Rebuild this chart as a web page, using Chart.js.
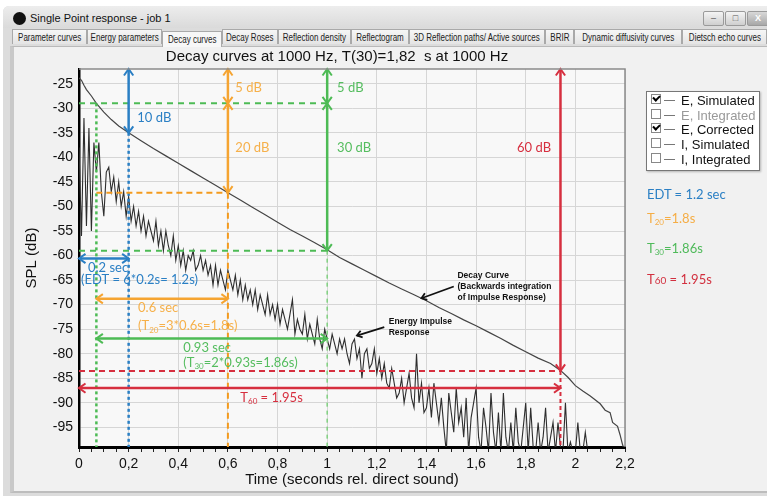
<!DOCTYPE html>
<html>
<head>
<meta charset="utf-8">
<title>Decay curves</title>
<script src="https://cdn.jsdelivr.net/npm/chart.js@4.4.1/dist/chart.umd.min.js"></script>
<style>
  html, body { margin: 0; padding: 0; width: 767px; height: 497px; overflow: hidden; background: #fff;
    font-family: "Liberation Sans", Arial, sans-serif; }
  .abs { position: absolute; }
  #frame { left: 3px; top: 6px; width: 764px; height: 490px; background: #dcdcdc; border-radius: 6px 0 0 0; }
  #titlebar { left: 3px; top: 6px; width: 764px; height: 22px; background: linear-gradient(#ededed, #dadada);
    border-radius: 6px 0 0 0; }
  #icon { left: 13px; top: 12px; width: 13px; height: 13px; border-radius: 50%; background: #111; }
  #wtitle { left: 30px; top: 12px; font-size: 11px; color: #111; }
  .wbtn { top: 11px; width: 19px; height: 13px; border: 1px solid #9a9a9a; border-radius: 2px;
    background: linear-gradient(#f4f4f4, #cfcfcf); font-size: 9px; color: #555; text-align: center; line-height: 12px; }
  #tabs { left: 10px; top: 28px; width: 757px; height: 18px; }
  .tab { position: absolute; top: 1px; height: 15px; border: 1px solid #a9a9a9; border-bottom: none;
    background: linear-gradient(#f6f6f6, #e4e4e4); color: #222;
    line-height: 15px; white-space: nowrap; overflow: hidden; box-sizing: border-box; }
  .tab span { display: block; width: 125%; margin-left: -12.5%; text-align: center; font-size: 10px;
    transform: scaleX(0.8); transform-origin: center; }
  .tab.on { top: 3px; height: 16px; background: #f7f7f7; z-index: 2; }
  #panel { left: 10px; top: 46px; width: 757px; height: 447px; background: #f1f1f1;
    border-left: 4px solid #c9c9c9; border-top: 1px solid #b9b9b9; border-bottom: 2px solid #bdbdbd; box-sizing: border-box; }
  #chart { left: 0; top: 0; z-index: 3; }
  #legend { left: 646px; top: 91px; width: 114px; height: 80px; background: #fff; border: 1px solid #777;
    box-shadow: 1px 1px 2px rgba(0,0,0,0.25); box-sizing: border-box; z-index: 4; padding-top: 2px; }
  .row { height: 14.7px; font-size: 13px; line-height: 14.7px; color: #111; white-space: nowrap; position: relative; }
  .row.dim { color: #999; }
  .cb { display: inline-block; width: 8px; height: 8px; border: 1px solid #888; margin-left: 4px; vertical-align: 1px;
    background: #fff; position: relative; }
  .cb.on::after { content: ""; position: absolute; left: 1px; top: 0px; width: 5px; height: 3px;
    border-left: 2px solid #000; border-bottom: 2px solid #000; transform: rotate(-45deg); }
  .ln { display: inline-block; width: 11px; height: 1px; background: #777; margin: 0 6px 0 3px; vertical-align: 4px; }
  .side { left: 647px; font-family: Lato, "Open Sans", sans-serif; font-size: 13px; z-index: 4; white-space: nowrap; }
  .side sub { font-size: 8px; vertical-align: -2px; }
</style>
</head>
<body>
<div id="frame" class="abs"></div>
<div id="titlebar" class="abs"></div>
<div id="icon" class="abs"></div>
<div id="wtitle" class="abs">Single Point response - job 1</div>
<div class="abs wbtn" style="left:703px">&#8211;</div>
<div class="abs wbtn" style="left:725px">&#9633;</div>
<div class="abs wbtn" style="left:747px;width:20px;background:linear-gradient(#d8d8d8,#a8a8a8);color:#fff;font-weight:bold">X</div>
<div id="panel" class="abs"></div>
<div id="tabs" class="abs"></div>
<canvas id="chart" class="abs" width="767" height="497"></canvas>

<div id="legend" class="abs">
  <div class="row"><span class="cb on"></span><span class="ln"></span>E, Simulated</div>
  <div class="row dim"><span class="cb"></span><span class="ln"></span>E, Integrated</div>
  <div class="row"><span class="cb on"></span><span class="ln"></span>E, Corrected</div>
  <div class="row"><span class="cb"></span><span class="ln"></span>I, Simulated</div>
  <div class="row"><span class="cb"></span><span class="ln"></span>I, Integrated</div>
</div>
<div class="abs side" style="top:186px;color:#2a7fc4">EDT = 1.2 sec</div>
<div class="abs side" style="top:210px;color:#f5ad45">T<sub>20</sub>=1.8s</div>
<div class="abs side" style="top:240px;color:#4fba5a">T<sub>30</sub>=1.86s</div>
<div class="abs side" style="top:271px;color:#d2303f">T<span style="font-size:10px">60</span> = 1.95s</div>

<script>
// window tabs: [label, left, width]
const tabList = [
  ["Parameter curves", 2, 75], ["Energy parameters", 77, 75], ["Decay curves", 152, 60],
  ["Decay Roses", 212, 56], ["Reflection density", 268, 73], ["Reflectogram", 341, 58],
  ["3D Reflection paths/ Active sources", 399, 136], ["BRIR", 535, 29],
  ["Dynamic diffusivity curves", 564, 108], ["Dietsch echo curves", 672, 85]
];
const tabBox = document.getElementById("tabs");
tabList.forEach(([name, left, width]) => {
  const t = document.createElement("div");
  t.className = "tab" + (name === "Decay curves" ? " on" : "");
  t.style.left = left + "px";
  t.style.width = width + "px";
  const s = document.createElement("span");
  s.textContent = name;
  t.appendChild(s);
  tabBox.appendChild(t);
});

// axis ticks
const xMajorTicks = [0, 0.2, 0.4, 0.6, 0.8, 1, 1.2, 1.4, 1.6, 1.8, 2, 2.2];
const xTickLabels = ["0", "0,2", "0,4", "0,6", "0,8", "1", "1,2", "1,4", "1,6", "1,8", "2", "2,2"];
const xMinorTicks = [0.05, 0.1, 0.15, 0.25, 0.3, 0.35, 0.45, 0.5, 0.55, 0.65, 0.7, 0.75, 0.85, 0.9, 0.95,
  1.05, 1.1, 1.15, 1.25, 1.3, 1.35, 1.45, 1.5, 1.55, 1.65, 1.7, 1.75, 1.85, 1.9, 1.95, 2.05, 2.1, 2.15];
const yTicks = [-25, -30, -35, -40, -45, -50, -55, -60, -65, -70, -75, -80, -85, -90, -95];

// energy impulse response (dB), sampled every 10 ms
const irTime = [
  0, 0.01, 0.02, 0.03, 0.04, 0.05, 0.06, 0.07, 0.08, 0.09,
  0.1, 0.11, 0.12, 0.13, 0.14, 0.15, 0.16, 0.17, 0.18, 0.19,
  0.2, 0.21, 0.22, 0.23, 0.24, 0.25, 0.26, 0.27, 0.28, 0.29,
  0.3, 0.31, 0.32, 0.33, 0.34, 0.35, 0.36, 0.37, 0.38, 0.39,
  0.4, 0.41, 0.42, 0.43, 0.44, 0.45, 0.46, 0.47, 0.48, 0.49,
  0.5, 0.51, 0.52, 0.53, 0.54, 0.55, 0.56, 0.57, 0.58, 0.59,
  0.6, 0.61, 0.62, 0.63, 0.64, 0.65, 0.66, 0.67, 0.68, 0.69,
  0.7, 0.71, 0.72, 0.73, 0.74, 0.75, 0.76, 0.77, 0.78, 0.79,
  0.8, 0.81, 0.82, 0.83, 0.84, 0.85, 0.86, 0.87, 0.88, 0.89,
  0.9, 0.91, 0.92, 0.93, 0.94, 0.95, 0.96, 0.97, 0.98, 0.99,
  1, 1.01, 1.02, 1.03, 1.04, 1.05, 1.06, 1.07, 1.08, 1.09,
  1.1, 1.11, 1.12, 1.13, 1.14, 1.15, 1.16, 1.17, 1.18, 1.19,
  1.2, 1.21, 1.22, 1.23, 1.24, 1.25, 1.26, 1.27, 1.28, 1.29,
  1.3, 1.31, 1.32, 1.33, 1.34, 1.35, 1.36, 1.37, 1.38, 1.39,
  1.4, 1.41, 1.42, 1.43, 1.44, 1.45, 1.46, 1.47, 1.48, 1.49,
  1.5, 1.51, 1.52, 1.53, 1.54, 1.55, 1.56, 1.57, 1.58, 1.59,
  1.6, 1.61, 1.62, 1.63, 1.64, 1.65, 1.66, 1.67, 1.68, 1.69,
  1.7, 1.71, 1.72, 1.73, 1.74, 1.75, 1.76, 1.77, 1.78, 1.79,
  1.8, 1.81, 1.82, 1.83, 1.84, 1.85, 1.86, 1.87, 1.88, 1.89,
  1.9, 1.91, 1.92, 1.93, 1.94, 1.95, 1.96, 1.97, 1.98, 1.99,
  2, 2.01, 2.02, 2.03, 2.04, 2.05
];
const irLevel = [
  -38, -56, -32, -54, -34, -55, -37, -43, -37, -47,
  -52, -43, -42, -47, -44, -49, -45, -50, -47, -52,
  -48, -53, -50, -54, -51, -55, -52, -56, -53, -55,
  -57, -53, -58, -55, -59, -55, -58, -60, -56, -61,
  -58, -62, -59, -63, -60, -61, -59, -63, -62, -60,
  -63, -61, -64, -62, -66, -62, -66, -63, -65, -67,
  -63, -65, -67, -64, -68, -65, -69, -66, -69, -67,
  -70, -67, -71, -68, -70, -72, -68, -72, -70, -73,
  -70, -74, -71, -73, -75, -72, -69, -76, -73, -75,
  -76, -72, -77, -74, -76, -78, -73, -77, -79, -75,
  -77, -79, -76, -78, -80, -77, -79, -77, -80, -82,
  -78, -77, -81, -79, -85, -80, -79, -83, -82, -79,
  -84, -81, -85, -82, -86, -87, -83, -86, -89, -88,
  -85, -90, -87, -84, -89, -91, -80, -90, -86, -92,
  -91, -87, -93, -86, -90, -94, -89, -95, -100, -88,
  -92, -96, -87, -94, -91, -97, -89, -100, -93, -90,
  -87, -97, -100, -91, -95, -100, -88, -96, -100, -92,
  -100, -88, -97, -100, -94, -100, -91, -98, -100, -95,
  -90, -100, -91, -99, -100, -94, -100, -97, -91, -100,
  -97, -94, -100, -94, -99, -100, -90, -100, -98, -100,
  -100, -94, -100, -100, -96, -100
];

// backwards-integrated decay curve (dB)
const decayTime = [0, 0.01, 0.02, 0.03, 0.05, 0.07, 0.1, 0.13, 0.16, 0.2, 0.25, 0.3, 0.35, 0.4, 0.45, 0.5,
  0.55, 0.6, 0.65, 0.7, 0.75, 0.8, 0.85, 0.9, 0.95, 1, 1.05, 1.1, 1.15, 1.2, 1.25, 1.3, 1.35, 1.4, 1.45,
  1.5, 1.55, 1.6, 1.65, 1.7, 1.75, 1.8, 1.85, 1.9, 1.94, 1.97, 2, 2.03, 2.06, 2.1, 2.12, 2.14, 2.15,
  2.17, 2.18, 2.19, 2.2];
const decayLevel = [-23.8, -24.3, -25.3, -26.2, -27.5, -29, -30.8, -32.3, -33.6, -35, -36.6, -38.2, -39.7,
  -41.2, -42.7, -44.2, -45.7, -47.2, -48.7, -50.2, -51.7, -53.2, -54.7, -56, -57.4, -58.8, -60.4, -61.7,
  -63, -64.3, -65.6, -66.8, -68, -69.2, -70.6, -71.8, -73.1, -74.3, -75.6, -76.9, -78.3, -79.6, -80.9,
  -82, -83.4, -84.8, -86.5, -87.6, -88.6, -90.2, -91.5, -92, -94, -94.8, -96.5, -98.5, -100];

const BLUE = "#2a7fc4", ORANGE = "#f5a431", GREEN = "#4dbb55", RED = "#d62f3f";
const Y_TOP = -22, Y_BOT = -99;

// construction lines (seconds / dB)
const guides = [
  { x1: 0, y1: -29, x2: 1, y2: -29, color: GREEN, dash: [6, 5], width: 2 },
  { x1: 0, y1: -59, x2: 1, y2: -59, color: GREEN, dash: [6, 5], width: 2 },
  { x1: 0.07, y1: -29, x2: 0.07, y2: Y_BOT, color: GREEN, dash: [3, 3], width: 2.5 },
  { x1: 1, y1: -59, x2: 1, y2: Y_BOT, color: "#7fd07f", dash: [4, 4], width: 1.5 },
  { x1: 0.2, y1: -35, x2: 0.2, y2: Y_BOT, color: BLUE, dash: [3, 3], width: 2.5 },
  { x1: 0.07, y1: -47.2, x2: 0.6, y2: -47.2, color: "#f39a1e", dash: [6, 4], width: 2 },
  { x1: 0.6, y1: -47.2, x2: 0.6, y2: Y_BOT, color: "#f39a1e", dash: [6, 4], width: 2 },
  { x1: 0, y1: -83.5, x2: 1.94, y2: -83.5, color: RED, dash: [6, 4], width: 2 },
  { x1: 1.94, y1: -83.5, x2: 1.94, y2: Y_BOT, color: RED, dash: [4, 3], width: 2 }
];

// double-headed arrows (seconds / dB)
const arrows = [
  { x1: 0.2, y1: Y_TOP, x2: 0.2, y2: -35, color: BLUE },
  { x1: 0.6, y1: Y_TOP, x2: 0.6, y2: -29, color: ORANGE },
  { x1: 0.6, y1: -29, x2: 0.6, y2: -47.2, color: ORANGE },
  { x1: 1, y1: Y_TOP, x2: 1, y2: -29, color: GREEN },
  { x1: 1, y1: -29, x2: 1, y2: -59, color: GREEN },
  { x1: 1.94, y1: Y_TOP, x2: 1.94, y2: -83.5, color: RED },
  { x1: 0, y1: -60.6, x2: 0.2, y2: -60.6, color: BLUE },
  { x1: 0.07, y1: -68.8, x2: 0.6, y2: -68.8, color: ORANGE },
  { x1: 0.07, y1: -76.9, x2: 1, y2: -76.9, color: GREEN },
  { x1: 0, y1: -87, x2: 1.94, y2: -87, color: RED }
];

// coloured labels; array parts are [text, subscript]
const labels = [
  { x: 0.235, y: -31.9, color: BLUE, parts: ["10 dB"] },
  { x: 0.63, y: -25.8, color: "#f6b04a", parts: ["5 dB"] },
  { x: 0.63, y: -38, color: "#f6b04a", parts: ["20 dB"] },
  { x: 1.04, y: -25.8, color: "#55bd5f", parts: ["5 dB"] },
  { x: 1.04, y: -38, color: "#55bd5f", parts: ["30 dB"] },
  { x: 1.765, y: -38, color: RED, parts: ["60 dB"] },
  { x: 0.036, y: -62.6, color: BLUE, parts: ["0.2 sec"] },
  { x: 0.008, y: -64.9, color: BLUE, parts: ["(EDT = 6*0.2s= 1.2s)"] },
  { x: 0.238, y: -70.7, color: "#f6b04a", parts: ["0.6 sec"] },
  { x: 0.238, y: -74.4, color: "#f6b04a", parts: ["(T", ["20"], "=3*0.6s=1.8s)"] },
  { x: 0.42, y: -78.7, color: "#55bd5f", parts: ["0.93 sec"] },
  { x: 0.42, y: -81.8, color: "#55bd5f", parts: ["(T", ["30"], "=2*0.93s=1.86s)"] },
  { x: 0.65, y: -89, color: RED, parts: ["T", ["60"], " = 1.95s"] }
];

// black callouts with pointer arrows
const callouts = [
  { x: 1.525, y: -64.1, lines: ["Decay Curve", "(Backwards integration", "of Impulse Response)"],
    ax: 1.51, ay: -66.3, bx: 1.38, by: -68.7 },
  { x: 1.248, y: -73.5, lines: ["Energy Impulse", "Response"],
    ax: 1.23, ay: -74.6, bx: 1.12, by: -76.3 }
];

function drawHead(ctx, tipX, tipY, ang, size) {
  ctx.beginPath();
  ctx.moveTo(tipX - size * Math.cos(ang - 0.62), tipY - size * Math.sin(ang - 0.62));
  ctx.lineTo(tipX, tipY);
  ctx.lineTo(tipX - size * Math.cos(ang + 0.62), tipY - size * Math.sin(ang + 0.62));
  ctx.stroke();
}

const plotFrame = {
  id: "plotFrame",
  beforeDraw(chart) {
    const { ctx, chartArea: a } = chart;
    ctx.save();
    ctx.fillStyle = "#f8f8f8";
    ctx.fillRect(a.left, a.top, a.right - a.left, a.bottom - a.top);
    ctx.restore();
  },
  afterDraw(chart) {
    const { ctx, chartArea: a } = chart;
    ctx.save();
    ctx.strokeStyle = "#8a8a8a";
    ctx.lineWidth = 1.5;
    ctx.beginPath();
    ctx.moveTo(a.left, a.top);
    ctx.lineTo(a.right, a.top);
    ctx.lineTo(a.right, a.bottom);
    ctx.stroke();
    ctx.fillStyle = "#111";
    ctx.font = "15px 'Liberation Sans', Arial, sans-serif";
    ctx.textAlign = "center";
    ctx.textBaseline = "middle";
    ctx.fillText("Decay curves at 1000 Hz, T(30)=1,82  s at 1000 Hz", 337, 57);
    ctx.restore();
  }
};

const decayMarkup = {
  id: "decayMarkup",
  afterDatasetsDraw(chart) {
    const { ctx, scales: { x, y } } = chart;
    ctx.save();
    ctx.lineCap = "butt";
    guides.forEach(g => {
      ctx.strokeStyle = g.color;
      ctx.lineWidth = g.width;
      ctx.setLineDash(g.dash);
      ctx.beginPath();
      ctx.moveTo(x.getPixelForValue(g.x1), y.getPixelForValue(g.y1));
      ctx.lineTo(x.getPixelForValue(g.x2), y.getPixelForValue(g.y2));
      ctx.stroke();
    });
    ctx.setLineDash([]);
    arrows.forEach(r => {
      const ax = x.getPixelForValue(r.x1), ay = y.getPixelForValue(r.y1);
      const bx = x.getPixelForValue(r.x2), by = y.getPixelForValue(r.y2);
      ctx.strokeStyle = r.color;
      ctx.lineWidth = 2.5;
      ctx.beginPath();
      ctx.moveTo(ax, ay);
      ctx.lineTo(bx, by);
      ctx.stroke();
      const ang = Math.atan2(by - ay, bx - ax);
      ctx.lineWidth = 2;
      drawHead(ctx, bx, by, ang, 8);
      drawHead(ctx, ax, ay, ang + Math.PI, 8);
    });

    ctx.textBaseline = "middle";
    ctx.textAlign = "left";
    labels.forEach(l => {
      let px = x.getPixelForValue(l.x);
      const py = y.getPixelForValue(l.y);
      ctx.fillStyle = l.color;
      l.parts.forEach(p => {
        if (Array.isArray(p)) {
          ctx.font = "8px Lato, 'Open Sans', sans-serif";
          ctx.fillText(p[0], px, py + 4);
          px += ctx.measureText(p[0]).width;
        } else {
          ctx.font = "13px Lato, 'Open Sans', sans-serif";
          ctx.fillText(p, px, py);
          px += ctx.measureText(p).width;
        }
      });
    });

    ctx.fillStyle = "#111";
    ctx.strokeStyle = "#111";
    ctx.font = "bold 8.5px 'Liberation Sans Narrow', 'Liberation Sans', Arial, sans-serif";
    callouts.forEach(c => {
      const px = x.getPixelForValue(c.x);
      const py = y.getPixelForValue(c.y);
      c.lines.forEach((t, i) => ctx.fillText(t, px, py + i * 11));
      const ax = x.getPixelForValue(c.ax), ay = y.getPixelForValue(c.ay);
      const bx = x.getPixelForValue(c.bx), by = y.getPixelForValue(c.by);
      ctx.lineWidth = 1.8;
      ctx.beginPath();
      ctx.moveTo(ax, ay);
      ctx.lineTo(bx, by);
      ctx.stroke();
      drawHead(ctx, bx, by, Math.atan2(by - ay, bx - ax), 6);
    });
    ctx.restore();
  }
};

const xTickValues = xMajorTicks.concat(xMinorTicks).sort((a, b) => a - b);
const isMajor = v => xMajorTicks.some(m => Math.abs(m - v) < 1e-6);

new Chart(document.getElementById("chart"), {
  type: "line",
  data: {
    datasets: [
      {
        label: "Energy Impulse Response",
        data: irTime.map((t, i) => ({ x: t, y: irLevel[i] })),
        borderColor: "#2e2e2e",
        borderWidth: 1.1,
        pointRadius: 0,
        tension: 0
      },
      {
        label: "Decay Curve",
        data: decayTime.map((t, i) => ({ x: t, y: decayLevel[i] })),
        borderColor: "#444",
        borderWidth: 1.2,
        pointRadius: 0,
        tension: 0
      }
    ]
  },
  options: {
    responsive: false,
    animation: false,
    events: [],
    layout: { padding: { left: 20, top: 69, right: 142, bottom: 5 } },
    plugins: {
      legend: { display: false },
      title: { display: false },
      tooltip: { enabled: false }
    },
    scales: {
      x: {
        type: "linear",
        min: 0,
        max: 2.2,
        afterBuildTicks: scale => { scale.ticks = xTickValues.map(v => ({ value: v })); },
        afterFit: scale => { scale.height = 45; },
        border: { display: true, color: "#000", width: 3 },
        grid: {
          color: c => (c.tick && isMajor(c.tick.value) ? "#d6d6d6" : "rgba(0,0,0,0)"),
          lineWidth: 1,
          drawTicks: true,
          tickLength: 5,
          tickColor: "#222"
        },
        ticks: {
          autoSkip: false,
          maxRotation: 0,
          padding: 4,
          color: "#111",
          font: { family: "'Liberation Sans', Arial, sans-serif", size: 14 },
          callback: v => {
            const i = xMajorTicks.findIndex(m => Math.abs(m - v) < 1e-6);
            return i >= 0 ? xTickLabels[i] : "";
          }
        },
        title: {
          display: true,
          text: "Time (seconds rel. direct sound)",
          color: "#111",
          font: { family: "'Liberation Sans', Arial, sans-serif", size: 15 },
          padding: { top: 0, bottom: 3 }
        }
      },
      y: {
        type: "linear",
        min: Y_BOT,
        max: Y_TOP,
        afterBuildTicks: scale => { scale.ticks = yTicks.map(v => ({ value: v })); },
        afterFit: scale => { scale.width = 59; },
        border: { display: true, color: "#000", width: 2.5 },
        grid: { color: "#d6d6d6", lineWidth: 1, drawTicks: false },
        ticks: {
          padding: 6,
          color: "#111",
          font: { family: "'Liberation Sans', Arial, sans-serif", size: 14 }
        },
        title: {
          display: true,
          text: "SPL (dB)",
          color: "#111",
          font: { family: "'Liberation Sans', Arial, sans-serif", size: 15 },
          padding: { top: 3, bottom: 0 }
        }
      }
    }
  },
  plugins: [plotFrame, decayMarkup]
});
</script>
</body>
</html>
